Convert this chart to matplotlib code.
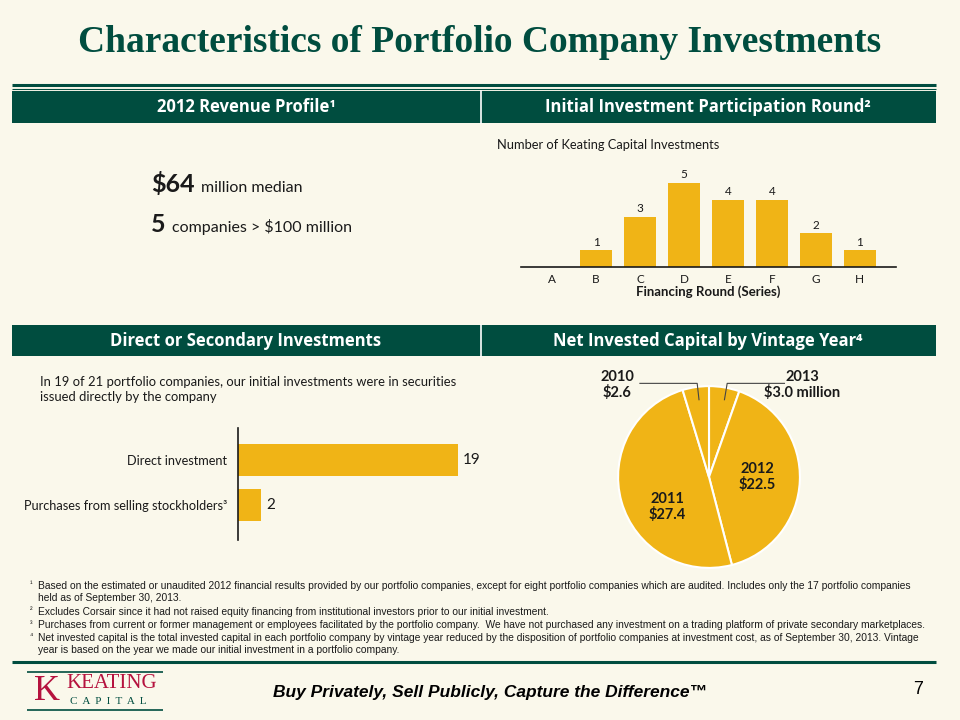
import numpy as np
import matplotlib.pyplot as plt

# data
rounds = ["A", "B", "C", "D", "E", "F", "G", "H"]
round_counts = [0, 1, 3, 5, 4, 4, 2, 1]

inv_types = ["Purchases from selling stockholders³", "Direct investment"]
inv_counts = [2, 19]

years = ["2013", "2012", "2011", "2010"]
capital = [3.0, 22.5, 27.4, 2.6]

BG = "#FAF8EB"
GREEN = "#004D3F"
GOLD = "#F0B416"
INK = "#1A1A1A"
SANS = ["Lato", "DejaVu Sans"]
HEAD = ["Open Sans", "DejaVu Sans"]

W, H = 960, 720
fig = plt.figure(figsize=(9.6, 7.2), dpi=100, facecolor=BG)


def fx(x):
    return x / W


def fy(y):
    return 1 - y / H


def txt(x, y, s, **kw):
    kw.setdefault("family", SANS)
    kw.setdefault("color", INK)
    return fig.text(fx(x), fy(y), s, **kw)


def hline(x0, x1, y, lw, color=GREEN):
    fig.add_artist(plt.Line2D([fx(x0), fx(x1)], [fy(y), fy(y)], lw=lw, color=color,
                              transform=fig.transFigure, solid_capstyle="butt"))


def band(y0, y1):
    fig.add_artist(plt.Rectangle((fx(12), fy(y1)), fx(924), (y1 - y0) / H,
                                 transform=fig.transFigure, color=GREEN, lw=0))
    fig.add_artist(plt.Line2D([fx(481), fx(481)], [fy(y0), fy(y1)], lw=1.2, color="white",
                              transform=fig.transFigure))


# title
txt(480, 42, "Characteristics of Portfolio Company Investments", ha="center", va="center",
    family="Liberation Serif", weight="bold", fontsize=27, color=GREEN)
hline(12, 936, 85, 2.2)
hline(12, 936, 88.5, 0.8)

# header bands
band(91, 123)
txt(246, 107, "2012 Revenue Profile¹", ha="center", va="center", color="white",
    weight="bold", fontsize=12, family=HEAD)
txt(708, 107, "Initial Investment Participation Round²", ha="center", va="center",
    color="white", weight="bold", fontsize=12, family=HEAD)
band(325, 356)
txt(246, 341, "Direct or Secondary Investments", ha="center", va="center", color="white",
    weight="bold", fontsize=12, family=HEAD)
txt(708, 341, "Net Invested Capital by Vintage Year⁴", ha="center", va="center",
    color="white", weight="bold", fontsize=12, family=HEAD)

# revenue profile
r = fig.canvas.get_renderer()
t1 = txt(151, 192, "$64", ha="left", va="baseline", weight="bold", fontsize=18)
e = t1.get_window_extent(r)
fig.text(e.x1 / W + fx(6), fy(192), "million median", ha="left", va="baseline",
         family=SANS, color=INK, fontsize=11.5)
t2 = txt(151, 232, "5", ha="left", va="baseline", weight="bold", fontsize=18)
e = t2.get_window_extent(r)
fig.text(e.x1 / W + fx(6), fy(232), "companies > $100 million", ha="left", va="baseline",
         family=SANS, color=INK, fontsize=11.5)

# rounds bar chart
ax1 = fig.add_axes([fx(521), fy(267), fx(375), 101 / H])
ax1.set_facecolor("none")
x = np.arange(len(rounds))
ax1.bar(x, round_counts, width=0.72, color=GOLD)
for xi, v in zip(x, round_counts):
    if v > 0:
        ax1.text(xi, v + 0.15, str(v), ha="center", va="bottom", fontsize=8.5,
                 family=SANS, color=INK)
ax1.set_xlim(-0.705, 7.82)
ax1.set_ylim(0, 6)
ax1.set_xticks(x)
ax1.set_xticklabels(rounds, fontsize=8.5, family=SANS, color=INK)
ax1.tick_params(axis="x", length=0, pad=5)
ax1.set_yticks([])
for s in ["top", "right", "left"]:
    ax1.spines[s].set_visible(False)
ax1.spines["bottom"].set_color(INK)
ax1.spines["bottom"].set_linewidth(1.2)
ax1.set_xlabel("Financing Round (Series)", fontsize=9.5, weight="bold", family=SANS,
               color=INK, labelpad=0)
txt(497, 145, "Number of Keating Capital Investments", ha="left", va="center", fontsize=9.3)

# direct vs secondary
txt(40, 376, "In 19 of 21 portfolio companies, our initial investments were in securities\n"
    "issued directly by the company", ha="left", va="top", fontsize=9.4,
    linespacing=1.3)
ax2 = fig.add_axes([fx(238), fy(540), fx(242), 112 / H])
ax2.set_facecolor("none")
y = np.arange(len(inv_types))
ax2.barh(y, inv_counts, height=0.71, color=GOLD)
for yi, v in zip(y, inv_counts):
    ax2.text(v + 0.45, yi, str(v), ha="left", va="center", fontsize=11, family=SANS,
             color=INK)
ax2.set_ylim(-0.78, 1.71)
ax2.set_xlim(0, 20.9)
ax2.set_yticks(y)
ax2.set_yticklabels(inv_types, fontsize=9.2, family=SANS, color=INK)
ax2.tick_params(axis="y", length=0, pad=8)
ax2.set_xticks([])
for s in ["top", "right", "bottom"]:
    ax2.spines[s].set_visible(False)
ax2.spines["left"].set_color(INK)
ax2.spines["left"].set_linewidth(1.2)

# vintage year pie
ax3 = fig.add_axes([fx(609), fy(577), fx(200), 200 / H])
ax3.axis("off")
ax3.pie(capital, startangle=90, counterclock=False, colors=[GOLD] * 4,
        wedgeprops=dict(edgecolor="white", linewidth=1.5))
ax3.set_xlim(-1.1, 1.1)
ax3.set_ylim(-1.1, 1.1)
ax3.set_aspect("equal")
lab = dict(ha="center", va="center", fontsize=10.5, weight="bold", family=SANS, color=INK,
           linespacing=1.15)
ax3.text(0.53, 0.0, "%s\n$%.1f" % (years[1], capital[1]), **lab)
ax3.text(-0.46, -0.33, "%s\n$%.1f" % (years[2], capital[2]), **lab)
txt(617, 385, "%s\n$%.1f" % (years[3], capital[3]), ha="center", va="center",
    fontsize=10.5, weight="bold", linespacing=1.15)
txt(802, 385, "%s\n$%.1f million" % (years[0], capital[0]), ha="center", va="center",
    fontsize=10.5, weight="bold", linespacing=1.15)
ax3.plot([-0.76, -0.13, -0.11], [1.03, 1.03, 0.85], color="#444444", lw=0.8, clip_on=False)
ax3.plot([0.83, 0.20, 0.17], [1.03, 1.03, 0.85], color="#444444", lw=0.8, clip_on=False)

# footnotes
notes = [
    ("¹", "Based on the estimated or unaudited 2012 financial results provided by our portfolio companies, except for eight portfolio companies which are audited. Includes only the 17 portfolio companies\nheld as of September 30, 2013."),
    ("²", "Excludes Corsair since it had not raised equity financing from institutional investors prior to our initial investment."),
    ("³", "Purchases from current or former management or employees facilitated by the portfolio company.  We have not purchased any investment on a trading platform of private secondary marketplaces."),
    ("⁴", "Net invested capital is the total invested capital in each portfolio company by vintage year reduced by the disposition of portfolio companies at investment cost, as of September 30, 2013. Vintage\nyear is based on the year we made our initial investment in a portfolio company."),
]
ys = [587, 613, 626, 639]
for (mark, s), yy in zip(notes, ys):
    txt(30, yy - 2, mark, ha="left", va="center", fontsize=5.5,
        family=["Liberation Sans", "DejaVu Sans"])
    txt(38, yy - 6, s, ha="left", va="top", fontsize=7.4, family=["Liberation Sans", "DejaVu Sans"],
        linespacing=1.2)

# footer
hline(12, 936, 662, 2.2)
hline(27, 163, 672, 1.2)
hline(27, 163, 710, 1.2)
txt(47, 691, "K", ha="center", va="center", family="Liberation Serif", fontsize=26,
    color="#B5123E")
txt(66, 684, "KEATING", ha="left", va="center", family="Liberation Serif", fontsize=15,
    color="#B5123E")
txt(70, 702, "C  A  P  I  T  A  L", ha="left", va="center", family="Liberation Serif",
    fontsize=8, color=GREEN)
txt(490, 693, "Buy Privately, Sell Publicly, Capture the Difference™", ha="center",
    va="center", family="Liberation Sans", weight="bold", style="italic", fontsize=12.5,
    color="black")
txt(918, 690, "7", ha="center", va="center", family="Liberation Sans", fontsize=13,
    color="black")

fig.savefig("out.png", dpi=100, facecolor=BG)
